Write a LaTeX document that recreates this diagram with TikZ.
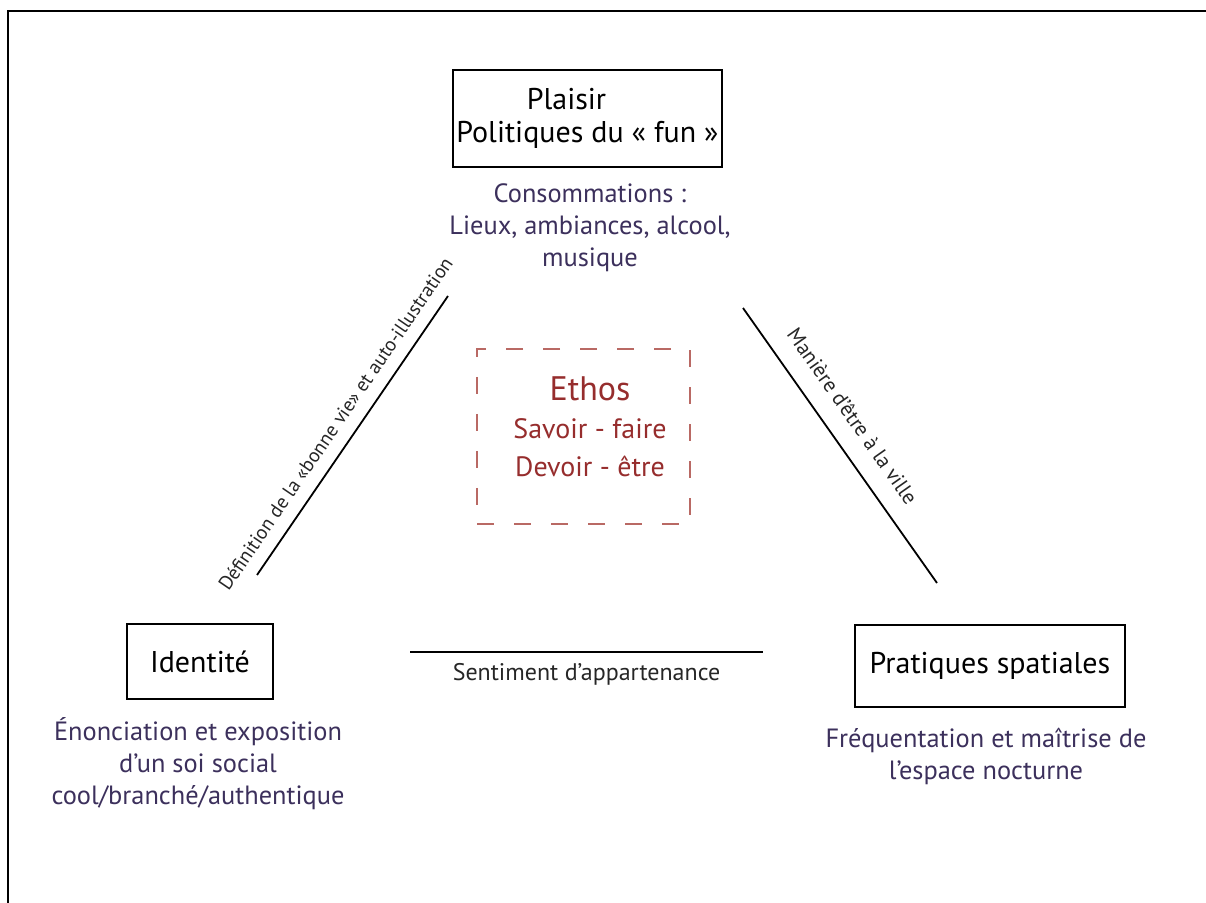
\documentclass[tikz,border=0pt]{standalone}
\usepackage{fontspec}
\setmainfont{PT Sans}
\definecolor{legende}{RGB}{60,48,92}
\definecolor{ethos}{RGB}{150,45,45}
\definecolor{tirets}{RGB}{185,105,100}

\begin{document}
\begin{tikzpicture}[x=0.5pt, y=-0.5pt,
  pole/.style={draw, line width=1pt, align=center, inner sep=0pt,
    font=\fontsize{15}{16.5}\selectfont},
  legende/.style={text=legende, align=center, font=\fontsize{13.2}{16}\selectfont},
  lien/.style={text=black!85}]
  \useasboundingbox (0,0) rectangle (1206,903);
  \draw[line width=1pt] (8,903) -- (8,11) -- (1206,11);

  \node[pole, minimum width=134.5pt, minimum height=48.5pt] (plaisir) at (587.5,118.5)
    {Plaisir\hspace*{1.4em}\\Politiques du «~fun~»};
  \node[pole, minimum width=73pt, minimum height=37.5pt] (identite) at (200,661.5) {Identité};
  \node[pole, minimum width=135pt, minimum height=41pt] (pratiques) at (990,666) {Pratiques spatiales};
  \node[draw=tirets, line width=0.8pt, dash pattern=on 8.5pt off 10pt,
    minimum width=106.5pt, minimum height=87.5pt] (ethos) at (583.5,436.5) {};
  \node[text=ethos, align=center, font=\fontsize{14}{19}\selectfont] (ethostxt) at (590,427)
    {{\fontsize{17}{19}\selectfont Ethos}\\Savoir - faire\\Devoir - être};

  \node[legende] (conso) at (590,228) {Consommations :\\Lieux, ambiances, alcool,\\musique};
  \node[legende] (enonc) at (198,764) {Énonciation et exposition\\d’un soi social\\cool/branché/authentique};
  \node[legende] (frequ) at (986,756) {Fréquentation et maîtrise de\\l’espace nocturne};

  \coordinate (g1) at (257,575); \coordinate (g2) at (448,296);
  \coordinate (d1) at (743,308); \coordinate (d2) at (937,583);
  \coordinate (b1) at (410,652); \coordinate (b2) at (763,652);
  \path[line width=0.9pt]
    (g1) edge node[lien, sloped, above=3pt, font=\fontsize{9.8}{12}\selectfont]
      {Définition de la «bonne vie» et auto-illustration} (g2)
    (d1) edge node[lien, sloped, above=6pt, pos=0.45, font=\fontsize{10.5}{12}\selectfont]
      {Manière d’être à la ville} (d2)
    (b1) edge node[lien, below=2pt, font=\fontsize{12}{14}\selectfont]
      {Sentiment d’appartenance} (b2);
\end{tikzpicture}
\end{document}
